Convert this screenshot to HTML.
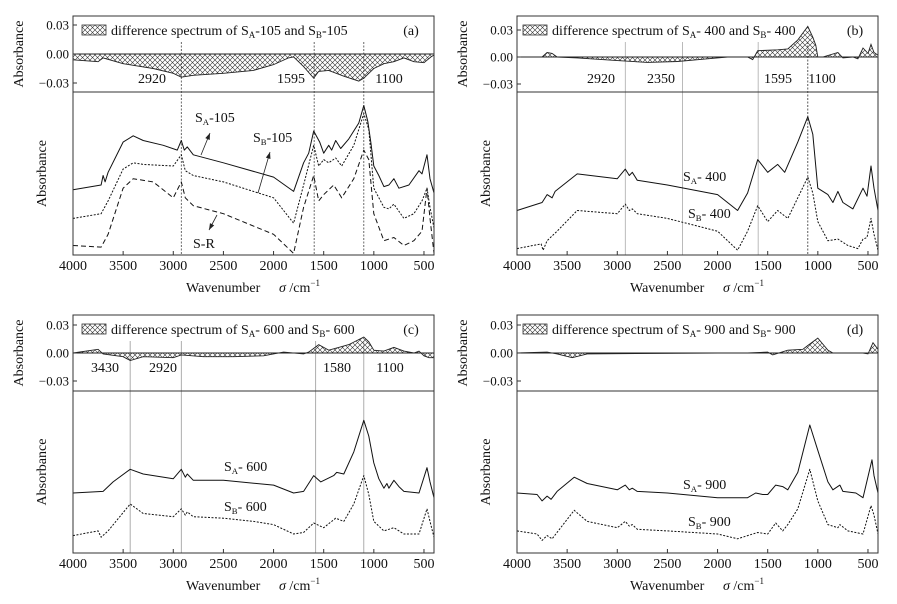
<!DOCTYPE html>
<html><head><meta charset="utf-8">
<style>
html,body{margin:0;padding:0;background:#fff;}
svg{display:block;font-family:"Liberation Serif","Times New Roman",serif;}
</style></head>
<body>
<svg id="fig" width="897" height="604" viewBox="0 0 897 604" xmlns="http://www.w3.org/2000/svg">
<defs>
<pattern id="hatch" width="5" height="5" patternUnits="userSpaceOnUse">
<path d="M0,0 L5,5 M5,0 L0,5" stroke="#333" stroke-width="0.6"/>
</pattern>
</defs>
</svg>
<script>
// ---- data (wavenumber cm^-1, difference absorbance; relative absorbance 0-100) ----
const tickLabels = [4000,3500,3000,2500,2000,1500,1000,500];
const diffTicks = [0.03,0.00,-0.03];
const diffTickText = ["0.03","0.00","\u22120.03"];

const aDiffWn = [4000,3750,3700,3500,3200,3000,2920,2800,2500,2200,2000,1850,1800,1700,1600,1550,1450,1300,1150,1100,1000,900,800,700,600,500,430,400];
const aDiffVal = [-0.006,-0.008,-0.004,-0.01,-0.015,-0.02,-0.024,-0.022,-0.02,-0.017,-0.011,-0.004,-0.003,-0.013,-0.025,-0.018,-0.017,-0.023,-0.028,-0.025,-0.015,-0.01,-0.008,-0.004,-0.008,-0.009,-0.003,-0.001];
const aSAWn = [4000,3720,3700,3680,3650,3500,3400,3300,3100,2960,2920,2890,2860,2800,2500,2000,1800,1700,1650,1600,1540,1500,1450,1420,1380,1330,1250,1150,1100,1060,1030,1000,950,900,850,800,750,650,550,520,470,440,400];
const aSAVal = [41,44,50,46,52,71,75,72,69,66,72,66,68,63,58,49,40,58,64,78,71,64,69,66,72,67,73,83,94,84,71,56,50,43,44,48,42,44,53,51,63,48,39];
const aSBWn = [4000,3720,3650,3500,3400,3300,3000,2920,2880,2800,2500,2000,1800,1700,1600,1550,1500,1450,1380,1320,1200,1100,1050,1000,900,850,800,700,600,520,470,440,400];
const aSBVal = [23,26,34,54,58,57,56,63,53,50,46,36,20,44,69,56,60,58,61,56,69,89,79,42,30,29,32,23,26,34,42,30,17];
const aSRWn = [4000,3720,3650,3500,3400,3200,3000,2920,2880,2800,2500,2000,1800,1700,1600,1550,1500,1400,1320,1200,1100,1050,1000,900,800,700,600,520,470,440,400];
const aSRVal = [6,5,13,42,48,46,36,46,36,31,26,13,1,30,50,34,38,44,36,48,66,60,26,9,11,6,9,15,42,23,1];

const bDiffWn = [4000,3750,3700,3650,3600,3400,3000,2700,2400,2100,1900,1700,1650,1600,1400,1300,1200,1100,1050,1020,1000,950,800,750,650,600,550,500,470,440,400];
const bDiffVal = [0,0,0.005,0.004,0,-0.001,-0.004,-0.006,-0.005,-0.002,0,0,-0.003,0.007,0.008,0.009,0.019,0.034,0.022,0.013,0,0,0.005,-0.001,0,-0.002,0.01,0.004,0.014,0.005,0.002];
const bSAWn = [4000,3750,3700,3650,3620,3400,3000,2920,2880,2850,2800,2500,2000,1800,1700,1600,1500,1400,1330,1200,1100,1050,1000,900,850,800,750,650,550,510,470,440,400];
const bSAVal = [28,33,38,36,40,51,48,54,50,52,47,44,38,28,39,60,52,57,52,71,87,76,42,38,33,40,33,29,42,37,56,42,28];
const bSBWn = [4000,3760,3740,3700,3600,3400,3000,2920,2880,2850,2800,2500,2000,1800,1700,1600,1500,1400,1300,1200,1100,1050,1000,900,800,700,600,550,510,470,440,400];
const bSBVal = [4,7,3,9,15,28,26,32,28,29,26,23,15,3,15,31,21,28,23,36,49,39,21,9,10,6,4,10,11,23,13,3];

const cDiffWn = [4000,3750,3700,3500,3430,3300,3000,2920,2700,2400,2100,1900,1700,1650,1550,1450,1350,1250,1100,1050,1000,900,800,700,600,550,500,450,400];
const cDiffVal = [0,0.004,-0.001,-0.004,-0.008,-0.004,-0.005,-0.002,-0.004,-0.004,-0.003,0.001,-0.001,0.001,0.009,0.003,0.006,0.009,0.017,0.012,0.003,0.002,0.006,0.002,0,0.002,-0.003,-0.005,-0.005];
const cSAWn = [4000,3700,3600,3430,3300,3000,2920,2880,2860,2800,2500,2000,1800,1700,1600,1530,1400,1370,1300,1200,1100,1050,1000,950,900,870,850,800,750,700,550,470,440,400];
const cSAVal = [38,39,45,53,50,47,53,48,50,46,46,43,38,39,49,45,49,51,50,64,84,74,57,47,41,44,41,46,42,39,38,54,45,35];
const cSBWn = [4000,3750,3720,3650,3430,3300,3000,2920,2880,2860,2800,2500,2200,2000,1800,1700,1600,1500,1380,1300,1200,1100,1050,1000,900,850,800,700,550,470,440,400];
const cSBVal = [11,14,10,14,31,25,23,28,24,26,23,22,20,18,12,13,19,16,22,20,31,49,37,20,14,15,16,12,12,28,20,10];

const dDiffWn = [4000,3700,3600,3450,3300,2000,1700,1500,1450,1300,1150,1100,1000,900,850,550,500,450,400];
const dDiffVal = [0,0.001,-0.001,-0.005,-0.001,0,0,0.001,-0.002,0.003,0.004,0.008,0.016,0.003,0,0,-0.001,0.011,0.004];
const dSAWn = [4000,3800,3750,3700,3660,3600,3430,3300,3000,2920,2880,2850,2800,2500,2000,1800,1700,1620,1550,1500,1420,1350,1300,1200,1080,1000,900,850,780,750,620,550,460,440,400];
const dSAVal = [38,37,33,36,34,39,48,44,40,43,40,41,39,38,35,35,35,38,37,37,43,42,40,51,81,65,45,40,43,39,38,35,59,49,38];
const dSBWn = [4000,3800,3750,3700,3650,3430,3300,3000,2920,2880,2850,2800,2500,2000,1800,1650,1600,1500,1420,1350,1300,1200,1080,1000,900,800,780,700,550,470,440,400];
const dSBVal = [14,12,8,11,9,27,20,16,20,17,18,15,14,12,9,12,13,12,19,14,18,28,53,33,18,16,18,14,12,30,24,12];

// ---- drawing ----
const NS = "http://www.w3.org/2000/svg";
const svg = document.getElementById("fig");
function el(tag, attrs, parent){
  const e = document.createElementNS(NS, tag);
  for (const k in attrs) e.setAttribute(k, attrs[k]);
  (parent||svg).appendChild(e);
  return e;
}
function txt(x,y,s,size,anchor,parent){
  const t = el("text",{x:x,y:y,"font-size":size||13,"text-anchor":anchor||"start",fill:"#111"},parent);
  t.textContent = s;
  return t;
}
function subLabel(x,y,sub,rest,size,parent){
  const t = el("text",{x:x,y:y,"font-size":size,fill:"#111"},parent);
  const a = document.createElementNS(NS,"tspan"); a.textContent="S"; t.appendChild(a);
  const b = document.createElementNS(NS,"tspan"); b.setAttribute("font-size",size*0.62); b.setAttribute("dy","3"); b.textContent=sub; t.appendChild(b);
  const c = document.createElementNS(NS,"tspan"); c.setAttribute("dy","-3"); c.textContent=rest; t.appendChild(c);
  return t;
}

const panels = [
 {id:"a", L:73,R:434,T:16,S:92,B:255, zero:54, k:29/0.03, diff:[aDiffWn,aDiffVal],
  series:[["sa-105",aSAWn,aSAVal,""],["sb-105",aSBWn,aSBVal,"2,1.5"],["s-r",aSRWn,aSRVal,"5,3"]],
  legend:["A","-105 and S","B","-105"], tag:"(a)",
  vlines:[[2920,"2,1.5","#444"],[1595,"2,1.5","#444"],[1100,"2,1.5","#444"]],
  peaks:[["2920",152],["1595",291],["1100",389]], peakY:83},
 {id:"b", L:517,R:878,T:16,S:92,B:255, zero:57, k:27/0.03, diff:[bDiffWn,bDiffVal],
  series:[["sa-400",bSAWn,bSAVal,""],["sb-400",bSBWn,bSBVal,"2,1.5"]],
  legend:["A","- 400 and S","B","- 400"], tag:"(b)",
  vlines:[[2920,"","#aaa"],[2350,"","#aaa"],[1595,"","#aaa"],[1100,"2,1.5","#333"]],
  peaks:[["2920",601],["2350",661],["1595",778],["1100",822]], peakY:83},
 {id:"c", L:73,R:434,T:315,S:391,B:553, zero:353, k:28/0.03, diff:[cDiffWn,cDiffVal],
  series:[["sa-600",cSAWn,cSAVal,""],["sb-600",cSBWn,cSBVal,"2,1.5"]],
  legend:["A","- 600 and S","B","- 600"], tag:"(c)",
  vlines:[[3430,"","#999"],[2920,"","#999"],[1580,"","#999"],[1100,"","#999"]],
  peaks:[["3430",105],["2920",163],["1580",337],["1100",390]], peakY:372},
 {id:"d", L:517,R:878,T:315,S:391,B:553, zero:353, k:28/0.03, diff:[dDiffWn,dDiffVal],
  series:[["sa-900",dSAWn,dSAVal,""],["sb-900",dSBWn,dSBVal,"2,1.5"]],
  legend:["A","- 900 and S","B","- 900"], tag:"(d)",
  vlines:[], peaks:[], peakY:372}
];

panels.forEach(p=>{
  const g = el("g",{});
  
  
  const xs = w => p.L + (4000-w)/3600*(p.R-p.L);
  const yd = v => p.zero - v*p.k;
  const yl = v => p.B - v/100*(p.B-p.S-4);

  // vertical reference lines
  p.vlines.forEach(v=>{
    const ln = el("line",{x1:xs(v[0]),x2:xs(v[0]),y1:p.T+26,y2:p.B,stroke:v[2],"stroke-width":0.8,"stroke-dasharray":v[1]},g);
    
    
  });

  // difference area
  let d = "M"+xs(p.diff[0][0])+","+yd(0);
  p.diff[0].forEach((w,i)=>{ d += " L"+xs(w).toFixed(1)+","+yd(p.diff[1][i]).toFixed(1); });
  d += " L"+xs(p.diff[0][p.diff[0].length-1])+","+yd(0)+" Z";
  const area = el("path",{d:d,fill:"url(#hatch)",stroke:"#222","stroke-width":0.9},g);
  
  
  const zl = el("line",{x1:p.L,x2:p.R,y1:yd(0),y2:yd(0),stroke:"#222","stroke-width":0.8},g);
  
  

  // spectra
  p.series.forEach(s=>{
    let pd = "";
    s[1].forEach((w,i)=>{ pd += (i?" L":"M")+xs(w).toFixed(1)+","+yl(s[2][i]).toFixed(1); });
    const pl = el("path",{d:pd,fill:"none",stroke:"#111","stroke-width":1,"stroke-dasharray":s[3],"stroke-linejoin":"round"},g);
    
    
  });

  // frame
  const fr = el("rect",{x:p.L,y:p.T,width:p.R-p.L,height:p.B-p.T,fill:"none",stroke:"#333","stroke-width":1},g);
  
  
  const sep = el("line",{x1:p.L,x2:p.R,y1:p.S,y2:p.S,stroke:"#333","stroke-width":1},g);
  
  

  // x ticks
  tickLabels.forEach(t=>{
    const x = xs(t);
    const tk = el("line",{x1:x,x2:x,y1:p.B,y2:p.B-4,stroke:"#333"},g);
    
    
    const tl = txt(x,p.B+15,String(t),14,"middle",g);
    
    
  });
  // diff y ticks
  diffTicks.forEach((t,i)=>{
    const y = yd(t);
    const tk = el("line",{x1:p.L,x2:p.L+4,y1:y,y2:y,stroke:"#333"},g);
    
    
    const tl = txt(p.L-4,y+4.5,diffTickText[i],13,"end",g);
    
    
  });

  // axis titles
  const yt1 = txt(0,0,"Absorbance",14,"middle",g);
  yt1.setAttribute("transform","translate("+(p.L-50)+","+((p.T+p.S)/2)+") rotate(-90)");
  
  
  const yt2 = txt(0,0,"Absorbance",14,"middle",g);
  yt2.setAttribute("transform","translate("+(p.L-27)+","+((p.S+p.B)/2)+") rotate(-90)");
  
  
  const xt = txt(p.L+113,p.B+37,"Wavenumber",14,"start",g);
  
  
  const xu = el("text",{x:p.L+206,y:p.B+37,"font-size":14,fill:"#111"},g);
  xu.innerHTML = '<tspan font-style="italic">σ</tspan> /cm<tspan font-size="9" dy="-6">−1</tspan>';
  
  

  // legend
  const lx = p.id==="b"||p.id==="d" ? p.L+6 : p.L+9;
  const sw = el("rect",{x:lx,y:p.T+9,width:24,height:10,fill:"url(#hatch)",stroke:"#333","stroke-width":0.8},g);
  
  
  const lt = el("text",{x:lx+29,y:p.T+19,"font-size":14,fill:"#111"},g);
  lt.innerHTML = 'difference spectrum of S<tspan font-size="9" dy="3">'+p.legend[0]+'</tspan><tspan dy="-3">'+p.legend[1]+'</tspan><tspan font-size="9" dy="3">'+p.legend[2]+'</tspan><tspan dy="-3">'+p.legend[3]+'</tspan>';
  
  
  const tg = txt(p.R-23,p.T+19,p.tag,14,"middle",g);
  
  

  // peak labels
  p.peaks.forEach(pk=>{
    const t = txt(pk[1],p.peakY,pk[0],14,"middle",g);
    
    
  });
});

// series labels & arrows
const labels = [
  [195,122,"A","-105"],[253,142,"B","-105"],
  [683,181,"A","- 400"],[688,218,"B","- 400"],
  [224,471,"A","- 600"],[224,511,"B","- 600"],
  [683,489,"A","- 900"],[688,526,"B","- 900"]
];
labels.forEach(l=>{
  const t = subLabel(l[0],l[1],l[2],l[3],14);
  
  
});
const sr = txt(193,248,"S-R",14,"start");


[[201,155,210,133],[258,193,270,152],[217,215,209,230]].forEach(a=>{
  const ln = el("line",{x1:a[0],y1:a[1],x2:a[2],y2:a[3],stroke:"#222","stroke-width":0.8});
  
  
  const ang = Math.atan2(a[3]-a[1],a[2]-a[0]);
  const p1 = [a[2]-7*Math.cos(ang-0.35), a[3]-7*Math.sin(ang-0.35)];
  const p2 = [a[2]-7*Math.cos(ang+0.35), a[3]-7*Math.sin(ang+0.35)];
  const hd = el("polygon",{points:a[2]+","+a[3]+" "+p1.join(",")+" "+p2.join(","),fill:"#222"});
  
  
});
</script>
</body></html>
